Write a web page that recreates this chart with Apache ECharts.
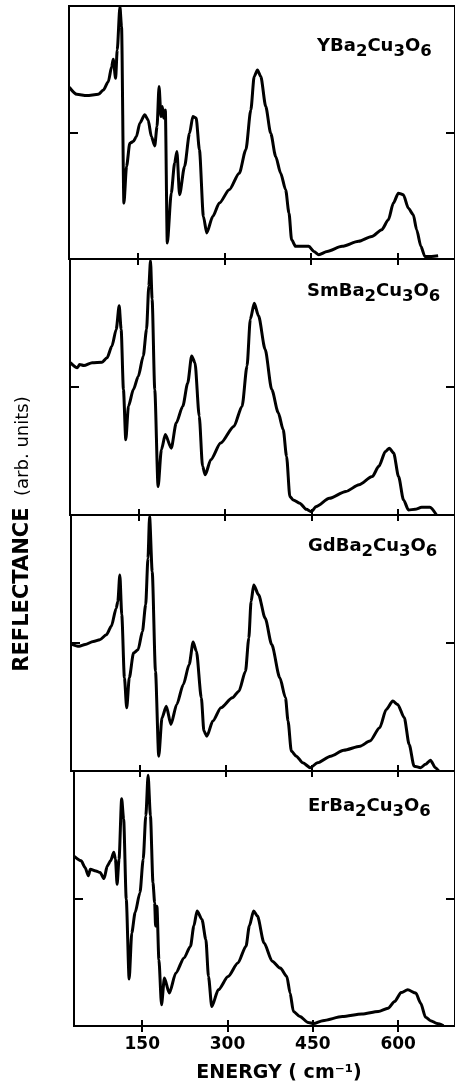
<!DOCTYPE html>
<html><head><meta charset="utf-8">
<script src="https://cdn.jsdelivr.net/npm/echarts@6/dist/echarts.min.js"></script>
<style>html,body{margin:0;padding:0;background:#fff}#c{width:455px;height:1084px}</style>
</head><body><div id="c"></div>
<script>
// ---- data ----
const xTicks = [150, 300, 450, 600];
const yTicks = [50];
const compoundNames = ['YBa2Cu3O6', 'SmBa2Cu3O6', 'GdBa2Cu3O6', 'ErBa2Cu3O6'];

const yEnergy = [30.5,43.5,60.8,81,89.6,98.2,104,106.8,110.9,113.7,118.4,121.2,125.3,129.9,135.6,141.4,147.1,152.9,161.5,167.3,173,178.8,182.8,186.3,189.7,192,194.3,197.2,200.6,207.5,213.3,217.3,221.9,230.6,239.2,245,250.7,256.4,263.3,269.1,279.5,291,308.2,325.5,337,345.6,351.4,357.1,362.9,371.5,380.1,388.8,397.4,406,411.8,416.4,423.3,434.8,446.3,455,463.6,478,503.9,532.6,555.6,572.9,584.4,593,601.7,610.3,619,627.6,633.4,640.8,647.7,659.2,670.7];
const yRefl = [67.9,65.1,64.6,65.1,66.8,70.1,76,79,71.4,82.6,99.7,91.8,22.1,36.6,45.8,46.4,48.4,53.7,57,55,48.4,44.7,52.4,68.2,56.3,60.3,55.7,58.9,6.3,26,37.9,42.5,25.4,36.6,49.7,56.3,55.7,43.2,16.8,10.3,16.8,22.1,27.4,33.9,43.2,58.9,72.1,74.7,72.1,60.3,49.7,40.5,33.9,27.4,18.2,7.6,5,5,5,3,1.7,3,5,7,8.9,11.6,15.5,22.1,26,25.4,20.1,17.5,11.6,5,1,1,1.3];

const smEnergy = [30.5,42.8,46.8,54.2,68.6,85.8,94.4,103,110.4,115.6,119,123,127.1,131.7,140.3,148.9,157.5,163.2,167.2,170.1,172.9,177.5,183.3,189,195.9,206.2,214.8,226.3,234.9,241.7,247.5,254.9,260.7,265.3,275,292.2,315.1,329.5,338.1,343.8,350.7,358.1,369.6,381.1,392.5,401.1,406.9,412.6,418.3,429.8,441.3,449.9,458.5,481.4,510.1,533,556,567.4,578.9,585.8,593.2,601.8,610.4,619,630.5,642,656.3,667.8];
const smRefl = [59.5,57.5,58.8,58.4,59.5,59.7,61.4,66,72.5,81.7,72.5,49,29.4,42.5,49,54.2,62.1,72.5,89.5,99.3,84.3,49,11.1,25.5,31.4,26.1,35.9,42.5,51.6,62.1,59.5,38.6,19,15.7,21.6,28.1,34.6,42.5,58.2,76.5,82.7,77.8,64.7,49,39.9,33.3,22.9,7.2,5.9,4.6,2.2,1.3,3.3,6.5,9.2,11.8,15,19,24.8,26.1,24.2,15,5.9,2,2.2,3,3,0];

const gdEnergy = [30.5,44.3,54.6,68.9,80.3,91.7,100.3,108.9,111.7,115.2,118.6,123.2,127.2,131.7,139.1,147.1,154.6,160.3,164.3,167.1,171.7,177.4,183.1,188.8,196.3,204.3,214.5,226,236.2,243.1,248.8,257.4,261.9,267.1,277.4,291.6,311.6,323,334.5,340.2,344.2,348.8,357.3,368.8,380.2,394.4,404.2,408.7,414.4,423,434.4,447.6,460.1,483,505.8,534.4,551.5,568.6,580,591.5,600,611.5,620,628.6,640,648.6,657.2,665.7,671.4];
const gdRefl = [49.6,48.7,49.4,50.6,51.3,53.2,56.5,63.6,66.2,76.6,61,36.4,24.7,36.4,46.1,47.4,54.5,64.9,83.1,99.4,77.9,39,5.8,20.8,25.3,18.2,26,33.8,41.6,50.4,46.8,28.6,15.6,13.6,19.5,24.7,28.6,31.2,39,51.9,66.2,72.7,68.8,59.7,49.4,36.4,28.6,19.5,7.8,5.8,3.2,1.3,3.2,5.8,8.1,9.7,11.7,16.9,24,27.3,26,20.8,10.4,1.9,1.3,2.6,4.2,1.3,0];

const erEnergy = [30.5,42.5,49.4,55.3,58.7,68.5,75.9,82.8,88.6,94.3,100,102.9,105.8,109.2,113.8,117.3,121.9,127,131.6,137.4,146,151.7,156.3,160.3,164.4,168.9,171.8,173.5,175.8,179.3,183.9,189,197.6,209.1,223.5,234.9,240.7,246.4,255,261.9,266.5,272.3,283.8,301,318.2,332.5,338.3,345.8,352.6,364.1,378.5,392.8,404.3,410,415.8,427.3,441.7,451.4,467.5,501.9,536.3,565.1,582.3,593.8,605.3,616.8,631.1,639.7,648.3,657,668.4,679.9];
const erRefl = [66.5,64.8,62.2,58.9,61.5,60.8,60.2,57.8,62.8,64.8,68.1,65.4,55.6,65.4,89.1,81.2,49.7,18.4,36.5,44.4,52.3,65.4,82.5,98.3,82.5,56.2,48.4,39.2,47,26,8.3,18.8,12.9,20.8,26.7,31.3,39.2,45.1,41.8,33.9,19.4,7.6,14.2,19.4,24.7,31.3,39.2,45.1,43.1,32.6,25.4,22.7,19.4,12.9,5.7,3.7,1.4,1,2.1,3.7,4.7,5.7,7,9.6,13.1,14.2,12.9,8.9,3.4,2.1,1,0.1];

const panelX = [yEnergy, smEnergy, gdEnergy, erEnergy];
const panelY = [yRefl, smRefl, gdRefl, erRefl];

// ---- layout ----
const tops = [6, 259, 515, 771];
const heights = [253, 256, 256, 255];
const lefts = [69, 70, 71, 74];
const W = 388;
const labelPos = [[317, 46], [307, 291], [308, 546], [308, 806]];
const FONT = 'DejaVu Sans';

const grids = [], xAxes = [], yAxes = [], series = [], graphics = [];
const tickStyle = { color: '#000', width: 2 };
for (let i = 0; i < 4; i++) {
  grids.push({ left: lefts[i], top: tops[i], width: W, height: heights[i],
    show: true, borderColor: '#000', borderWidth: 2, backgroundColor: 'transparent' });
  const base = { type: 'value', gridIndex: i, min: 30, max: 700,
    axisLine: { show: false }, splitLine: { show: false } };
  xAxes.push(Object.assign({}, base, { position: 'bottom',
    axisTick: { show: true, inside: true, length: 6, lineStyle: tickStyle, customValues: xTicks },
    axisLabel: i === 3 ? { show: true, customValues: xTicks, color: '#000', fontSize: 17,
      fontWeight: 'bold', fontFamily: FONT, margin: 10 } : { show: false } }));
  xAxes.push(Object.assign({}, base, { position: 'top',
    axisTick: { show: true, inside: true, length: 6, lineStyle: tickStyle, customValues: xTicks },
    axisLabel: { show: false } }));
  const ybase = { type: 'value', gridIndex: i, min: 0, max: 100,
    axisLine: { show: false }, splitLine: { show: false }, axisLabel: { show: false } };
  yAxes.push(Object.assign({}, ybase, { position: 'left',
    axisTick: { show: true, inside: true, length: 9, lineStyle: tickStyle, customValues: yTicks } }));
  yAxes.push(Object.assign({}, ybase, { position: 'right',
    axisTick: { show: true, inside: true, length: 9, lineStyle: tickStyle, customValues: yTicks } }));
  series.push({ type: 'line', name: compoundNames[i], xAxisIndex: 2 * i, yAxisIndex: 2 * i,
    data: panelX[i].map((x, k) => [x, panelY[i][k]]),
    showSymbol: false, smooth: 0.25, smoothMonotone: 'x',
    lineStyle: { color: '#000', width: 3 }, animation: false });
  const nm = compoundNames[i];
  const pre = nm.slice(0, nm.indexOf('Ba'));
  graphics.push({ type: 'text', x: labelPos[i][0], y: labelPos[i][1],
    style: { text: '{m|' + pre + 'Ba}{s|2}{m|Cu}{s|3}{m|O}{s|6}', align: 'left', verticalAlign: 'middle',
      rich: { m: { fontSize: 18, fontWeight: 'bold', fontFamily: FONT, color: '#000', lineHeight: 24 },
              s: { fontSize: 16.5, fontWeight: 'bold', fontFamily: FONT, color: '#000', lineHeight: 24, padding: [11, 0, 0, 0] } } } });
}
graphics.push({ type: 'text', x: 279, y: 1073,
  style: { text: 'ENERGY ( cm⁻¹)', align: 'center', verticalAlign: 'middle',
    font: 'bold 19px "DejaVu Sans"', fill: '#000' } });
graphics.push({ type: 'text', x: 23, y: 534, rotation: Math.PI / 2,
  style: { text: '{b|REFLECTANCE}{n|  (arb. units)}', align: 'center', verticalAlign: 'middle',
    rich: { b: { fontSize: 21, fontWeight: 'bold', fontFamily: FONT, color: '#000' },
            n: { fontSize: 18, fontFamily: FONT, color: '#000' } } } });

const chart = echarts.init(document.getElementById('c'), null, { renderer: 'canvas' });
chart.setOption({ animation: false, backgroundColor: '#fff', grid: grids, xAxis: xAxes, yAxis: yAxes,
  series: series, graphic: graphics });
</script></body></html>
